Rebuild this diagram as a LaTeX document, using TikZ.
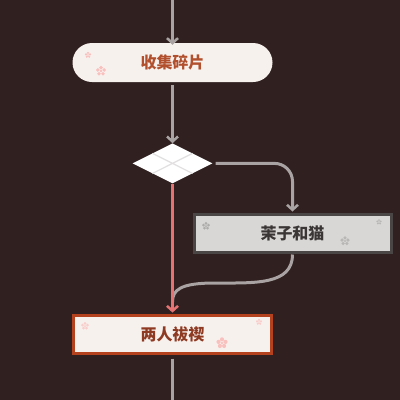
\documentclass[tikz,border=0pt]{standalone}
\usepackage{fontspec}
\newfontfamily\cjk{Noto Sans CJK SC}
\usetikzlibrary{positioning,shapes.geometric,arrows.meta}

\definecolor{bgbrown}{HTML}{30201F}
\definecolor{flowgray}{HTML}{A9A3A3}
\definecolor{flowpink}{HTML}{E57373}
\definecolor{paper}{HTML}{F7F1EE}
\definecolor{rusttext}{HTML}{B2502E}
\definecolor{catgray}{HTML}{D9D7D5}
\definecolor{catedge}{HTML}{4A4646}
\definecolor{cattext}{HTML}{3A3636}
\definecolor{redge}{HTML}{B4421F}
\definecolor{redtext}{HTML}{8E3A22}

\tikzset{
  flow/.style={draw=flowgray, line width=3pt, -{Straight Barb[length=5pt,width=11pt,line width=2.5pt]}},
  plainflow/.style={draw=flowgray, line width=3pt},
  pinkflow/.style={draw=flowpink, line width=3pt, -{Straight Barb[length=5pt,width=11pt,line width=2.5pt]}},
  label text/.style={font=\cjk\bfseries\fontsize{16pt}{16pt}\selectfont},
  pillbox/.style={label text, fill=paper, text=rusttext, rounded corners=19.5pt,
    minimum width=200pt, minimum height=39pt, inner sep=0pt},
  catbox/.style={label text, fill=catgray, draw=catedge, line width=3pt, text=cattext,
    minimum width=197pt, minimum height=38pt, inner sep=0pt},
  endbox/.style={label text, fill=paper, draw=redge, line width=3pt, text=redtext,
    minimum width=198pt, minimum height=38pt, inner sep=0pt},
  choicebox/.style={diamond, fill=white, minimum width=80pt, minimum height=40pt,
    aspect=2, inner sep=0pt},
  blossom/.pic={
    \foreach \a in {90,162,234,306,18}
      \fill[#1] (\a:2.6pt) circle (1.5pt);
    \fill[#1] (0,0) circle (1pt);
  },
}

\begin{document}
\begin{tikzpicture}[x=1pt,y=1pt]
  \useasboundingbox (0,0) rectangle (400,-400);
  \fill[bgbrown] (0,0) rectangle (400,-400);

  % nodes
  \node[pillbox] (collect) at (172.5,-62.5) {收集碎片};
  \node[choicebox, below=61pt of collect] (choice) {};
  \node[catbox] (cat) at (292.5,-233) {茉子和猫};
  \node[endbox, below=130pt of choice] (purify) {两人祓禊};

  \coordinate (top) at (172.5,0);
  \coordinate (bottom) at (172.5,-400);
  \coordinate (join) at (172.5,-302);

  % choice panes
  \draw[flowgray!35, line width=1.2pt] (choice.north west) -- (choice.south east)
    (choice.north east) -- (choice.south west);

  % blossoms
  \pic[scale=0.8] at (88,-55) {blossom={red!20!paper}};
  \pic[scale=1.3] at (101,-71) {blossom={red!20!paper}};
  \pic at (206,-226) {blossom={catgray!80!black}};
  \pic[scale=1.2] at (345,-241) {blossom={catgray!85!black}};
  \pic[scale=0.7] at (379,-222) {blossom={catgray!85!black}};
  \pic at (85,-326) {blossom={red!15!paper}};
  \pic[scale=1.4] at (222,-343) {blossom={red!20!paper}};
  \pic[scale=0.8] at (259,-322) {blossom={red!15!paper}};

  % connectors
  \draw[flow] (top) -- ([yshift=-2pt]collect.north);
  \draw[flow] ([yshift=-3pt]collect.south) -- (choice.north);
  \draw[flow, rounded corners=18pt] ([xshift=3pt]choice.east) -| ([yshift=1pt]cat.north);
  \draw[plainflow] ([yshift=-1pt]cat.south) .. controls (292.5,-285) and (255,-283) .. (215,-283)
    .. controls (180,-283) and (172.5,-290) .. (join);
  \draw[pinkflow] (choice.south) -- ([yshift=1pt]purify.north);
  \draw[plainflow] ([yshift=-4pt]purify.south) -- (bottom);
\end{tikzpicture}
\end{document}
